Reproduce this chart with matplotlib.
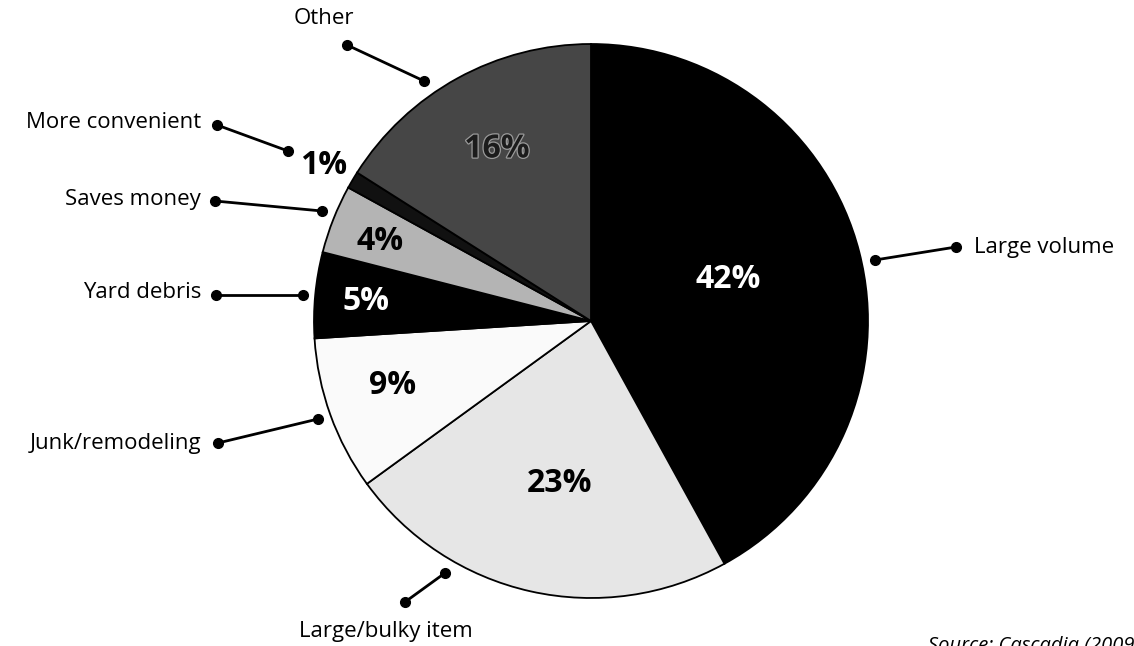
import matplotlib.pyplot as plt
import matplotlib.patheffects as pe

# reasons for self-haul, share of trips (%)
labels = ['Large volume', 'Large/bulky item', 'Junk/remodeling', 'Yard debris',
          'Saves money', 'More convenient', 'Other']
shares = [42, 23, 9, 5, 4, 1, 16]
colours = ['#000000', '#e6e6e6', '#fafafa', '#000000', '#b4b4b4', '#111111', '#464646']
pct_colours = ['white', 'black', 'black', 'white', 'black', 'black', '#1c1c1c']

plt.rcParams['font.family'] = ['Open Sans', 'DejaVu Sans']

W, H = 1134, 646
fig = plt.figure(figsize=(W / 100, H / 100), dpi=100)
ax = fig.add_axes([0, 0, 1, 1])

cx, cy, r = 591, 325, 277
wedges, _ = ax.pie(shares, colors=colours, startangle=90, counterclock=False,
                   center=(cx, cy), radius=r, frame=True,
                   wedgeprops=dict(edgecolor='black', linewidth=1.3))
ax.set_xlim(0, W)
ax.set_ylim(0, H)
ax.set_aspect('equal')
ax.axis('off')

# percentage labels (pixel positions, y measured from the top)
pct_pos = [(728, 279), (560, 484), (393, 386), (366, 301), (380, 242), (324, 166), (497, 149)]
for s, (x, y), c in zip(shares, pct_pos, pct_colours):
    t = ax.text(x, H - y, f'{s}%', ha='center', va='center', fontsize=23,
                fontweight='bold', color=c)
    if s == 16:
        t.set_path_effects([pe.withStroke(linewidth=1.8, foreground='#9a9a9a')])

# category labels with dot-ended leader lines
leaders = {
    'Large volume': ((875, 260), (956, 247), (974, 247), 'left'),
    'Large/bulky item': ((445, 573), (405, 602), (386, 631), 'center'),
    'Junk/remodeling': ((318, 419), (218, 443), (201, 444), 'right'),
    'Yard debris': ((303, 295), (216, 295), (201, 293), 'right'),
    'Saves money': ((322, 211), (215, 201), (201, 199), 'right'),
    'More convenient': ((288, 151), (217, 125), (201, 123), 'right'),
    'Other': ((424, 81), (347, 45), (324, 18), 'center'),
}
for name in labels:
    p0, p1, tp, ha = leaders[name]
    ax.plot([p0[0], p1[0]], [H - p0[1], H - p1[1]], color='black', lw=2,
            marker='o', markersize=7, solid_capstyle='round')
    ax.text(tp[0], H - tp[1], name, ha=ha, va='center', fontsize=16, color='black')

ax.text(928, H - 636, 'Source: Cascadia (2009)', ha='left', va='top',
        fontsize=14.5, style='italic', color='black')

fig.savefig('out.png', dpi=100)
